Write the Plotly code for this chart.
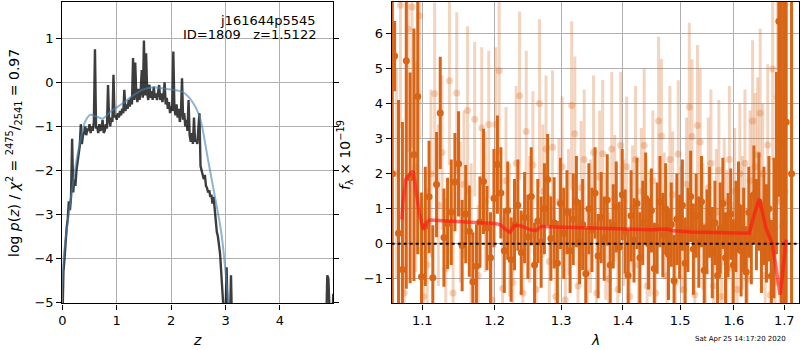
import plotly.graph_objects as go

# ---------------- left panel: log p(z) ----------------
z_grid = [
    0.00, 0.02, 0.04, 0.06, 0.08, 0.10, 0.12, 0.14, 0.16, 0.18,
    0.20, 0.22, 0.24, 0.26, 0.28, 0.30, 0.32, 0.34, 0.36, 0.38,
    0.40, 0.42, 0.44, 0.46, 0.48, 0.50, 0.52, 0.54, 0.56, 0.58,
    0.60, 0.62, 0.64, 0.66, 0.68, 0.70, 0.72, 0.74, 0.76, 0.78,
    0.80, 0.82, 0.84, 0.86, 0.88, 0.90, 0.92, 0.94, 0.96, 0.98,
    1.00, 1.02, 1.04, 1.06, 1.08, 1.10, 1.12, 1.14, 1.16, 1.18,
    1.20, 1.22, 1.24, 1.26, 1.28, 1.30, 1.32, 1.34, 1.36, 1.38,
    1.40, 1.42, 1.44, 1.46, 1.48, 1.50, 1.52, 1.54, 1.56, 1.58,
    1.60, 1.62, 1.64, 1.66, 1.68, 1.70, 1.72, 1.74, 1.76, 1.78,
    1.80, 1.82, 1.84, 1.86, 1.88, 1.90, 1.92, 1.94, 1.96, 1.98,
    2.00, 2.02, 2.04, 2.06, 2.08, 2.10, 2.12, 2.14, 2.16, 2.18,
    2.20, 2.22, 2.24, 2.26, 2.28, 2.30, 2.32, 2.34, 2.36, 2.38,
    2.40, 2.42, 2.44, 2.46, 2.48, 2.50, 2.52, 2.54, 2.56, 2.58,
    2.60, 2.62, 2.64, 2.66, 2.68, 2.70, 2.72, 2.74, 2.76, 2.78,
    2.80, 2.82, 2.84, 2.86, 2.88, 2.90, 2.92, 2.94, 2.96, 2.98,
    3.00, 3.02, 3.04, 3.06, 3.08, 3.10, 3.12,
    3.20, 4.82, 4.85, 4.87, 4.89, 4.92, 4.96, 4.98,
]
log_pz = [
    -5.6, -4.3, -4.0, -3.6, -3.3, -3.1, -2.7, -2.9, -2.6, -1.28,
    -2.5, -2.2, -2.35, -2.0, -1.85, -1.7, -1.45, -0.95, -1.4, -1.2,
    -1.15, -1.0, -1.2, -1.05, -1.1, -0.95, -1.15, -1.0, -1.1, -0.9,
    0.75, -1.05, -1.0, -1.15, -0.95, -1.1, -1.05, -0.85, -1.15, -1.1,
    -0.95, -1.05, -0.06, -0.85, -1.0, -0.8, -0.9, 0.17, -0.8, -0.75,
    -0.85, -0.7, -0.8, -0.65, -0.75, -0.6, -0.7, -0.17, -0.65, -0.5,
    -0.6, -0.4, -0.55, -0.35, -0.5, 0.55, -0.4, 0.45, -0.3, -0.45,
    -0.15, -0.4, -0.2, 0.28, -0.35, 0.95, -0.3, 0.66, -0.25, -0.4,
    -0.05, -0.35, -0.2, -0.4, -0.1, -0.35, -0.25, -0.4, -0.15, -0.06,
    -0.4, -0.25, -0.45, -0.3, 0.0, -0.5, -0.35, -0.6, -0.45, -0.7,
    -0.55, -0.65, 0.7, -0.6, -0.75, -0.5, -0.8, -0.6, -0.9, -0.7,
    0.09, -0.85, -0.7, -1.0, -0.85, -1.1, -0.4, -1.2, -1.35, -1.15,
    -1.4, -0.8, -1.35, -1.3, -1.4, -1.1, -0.7, -1.9, -2.0, -2.1,
    -2.2, -2.1, -2.35, -2.4, -2.5, -2.45, -2.6, -2.55, -2.75, -2.6,
    -2.9, -3.2, -3.4, -3.5, -3.7, -3.9, -4.3, -4.8, -5.3, -5.5,
    -5.3, -4.2, -5.4, -5.6, -5.5, -4.38, -5.6,
    -6.5, -6.5, -5.5, -4.38, -4.45, -5.5, -5.5, -4.8,
]
z_smooth = [0.0, 0.02, 0.08, 0.17, 0.26, 0.36, 0.42, 0.51, 0.63, 0.75, 0.88, 1.0,
            1.15, 1.31, 1.49, 1.67, 1.86, 2.04, 2.2, 2.32, 2.41, 2.5, 2.56, 2.67,
            2.79, 2.92, 3.0, 3.05, 3.1]
log_pz_smooth = [-4.6, -4.04, -3.36, -2.52, -1.77, -1.16, -0.89, -0.74, -0.78, -0.82,
                 -0.67, -0.57, -0.44, -0.29, -0.16, -0.11, -0.14, -0.17, -0.21, -0.33,
                 -0.48, -0.7, -0.95, -1.7, -2.5, -3.4, -4.3, -5.0, -5.6]

# ---------------- right panel: spectrum ----------------
wave_dark = [
    1.061, 1.064, 1.069, 1.074, 1.079, 1.084, 1.089, 1.094, 1.099, 1.104, 1.109,
    1.114, 1.119, 1.124, 1.129, 1.134, 1.139, 1.144, 1.149, 1.154, 1.159,
    1.164, 1.169, 1.174, 1.179, 1.184, 1.189, 1.194, 1.199, 1.204, 1.209,
    1.214, 1.219, 1.224, 1.229, 1.234, 1.239, 1.244, 1.249, 1.254, 1.259,
    1.264, 1.269, 1.274, 1.279, 1.284, 1.289, 1.294, 1.299, 1.304, 1.309,
    1.314, 1.319, 1.324, 1.329, 1.334, 1.339, 1.344, 1.349, 1.354, 1.359,
    1.364, 1.369, 1.374, 1.379, 1.384, 1.389, 1.394, 1.399, 1.404, 1.409,
    1.414, 1.419, 1.424, 1.429, 1.434, 1.439, 1.444, 1.449, 1.454, 1.459,
    1.464, 1.469, 1.474, 1.479, 1.484, 1.489, 1.494, 1.499, 1.504, 1.509,
    1.514, 1.519, 1.524, 1.529, 1.534, 1.539, 1.544, 1.549, 1.554, 1.559,
    1.564, 1.569, 1.574, 1.579, 1.584, 1.589, 1.594, 1.599, 1.604, 1.609,
    1.614, 1.619, 1.624, 1.629, 1.634, 1.639, 1.644, 1.649, 1.654, 1.659,
    1.664, 1.669, 1.674, 1.679, 1.684, 1.689, 1.694, 1.699, 1.704, 1.715,
]
flux_dark = [
    2.0, 5.35, 0.30, -0.73, 5.22, 1.88, 2.54, 4.20, -0.94, 0.50, 1.34,
    -0.97, 1.69, 3.73, 0.18, 0.58, 0.90, 1.76, 2.28, -0.05, 0.85,
    0.36, -1.08, -0.64, 0.62, 1.78, 0.45, -0.40, 1.30, 2.26, 1.45,
    -0.20, 0.95, -0.45, 0.55, 1.10, -0.25, 0.75, 0.20, 1.35, -0.60,
    0.65, 0.05, 1.00, 1.83, 0.15, 0.60, -0.55, 1.15, 0.30, 0.90,
    -0.20, 0.70, 1.20, 0.05, 0.55, -0.85, 1.00, 0.40, 1.45, -0.35,
    0.75, 0.15, 1.25, -0.60, 0.50, 1.05, -0.10, 1.40, 0.35, -0.90,
    0.80, 0.10, 1.15, -0.40, 0.60, 1.30, 0.00, 0.95, -0.70, 0.45,
    1.20, 0.25, 1.00, -0.30, 0.55, -1.05, 0.70, 0.20, 1.10, -0.55,
    0.40, 1.35, -0.15, 0.80, 0.05, 1.20, -0.75, 0.35, 0.90, -0.25,
    0.60, -0.90, 0.45, 1.15, -0.40, 0.25, 0.85, -0.60, 0.50, 1.05,
    -0.20, 0.40, -0.80, 0.90, 0.15, 1.40, 0.55, 1.20, -0.10, 0.80,
    0.30, 1.00, -0.92, 0.45, 2.30, 6.34, 2.85, 0.60, 3.47, 2.0,
]
err_dark = [
    9.0, 1.0, 3.8, 4.2, 6.5, 3.0, 3.6, 4.5, 2.4, 1.7, 1.6,
    1.5, 1.5, 1.6, 1.4, 1.3, 1.5, 1.4, 1.5, 1.3, 1.4,
    1.3, 1.4, 1.2, 1.3, 1.5, 1.2, 1.3, 1.4, 1.4, 1.3,
    1.2, 1.4, 1.2, 1.3, 1.3, 1.2, 1.3, 1.2, 1.4, 1.2,
    1.2, 1.3, 1.3, 1.3, 1.2, 1.3, 1.2, 1.3, 1.3, 1.2,
    1.2, 1.3, 1.3, 1.2, 1.3, 1.3, 1.3, 1.2, 1.3, 1.2,
    1.3, 1.2, 1.3, 1.3, 1.2, 1.3, 1.3, 1.3, 1.2, 1.3,
    1.3, 1.2, 1.3, 1.3, 1.2, 1.3, 1.3, 1.2, 1.3, 1.3,
    1.3, 1.2, 1.3, 1.3, 1.2, 1.3, 1.3, 1.2, 1.3, 1.3,
    1.2, 1.3, 1.3, 1.2, 1.3, 1.3, 1.3, 1.2, 1.3, 1.3,
    1.2, 1.3, 1.3, 1.3, 1.3, 1.2, 1.3, 1.3, 1.3, 1.3,
    1.3, 1.2, 1.3, 1.3, 1.3, 1.4, 1.3, 1.4, 1.3, 1.4,
    1.4, 1.5, 1.6, 2.0, 2.6, 5.0, 7.0, 9.0, 9.0, 9.0,
]
wave_light = [
    1.0665, 1.0715, 1.0765, 1.0815, 1.0865, 1.0915, 1.0965, 1.1015, 1.1065, 1.1115,
    1.1165, 1.1215, 1.1265, 1.1315, 1.1365, 1.1415, 1.1465, 1.1515, 1.1565, 1.1615,
    1.1665, 1.1715, 1.1765, 1.1815, 1.1865, 1.1915, 1.1965, 1.2015, 1.2065, 1.2115,
    1.2165, 1.2215, 1.2265, 1.2315, 1.2365, 1.2415, 1.2465, 1.2515, 1.2565, 1.2615,
    1.2665, 1.2715, 1.2765, 1.2815, 1.2865, 1.2915, 1.2965, 1.3015, 1.3065, 1.3115,
    1.3165, 1.3215, 1.3265, 1.3315, 1.3365, 1.3415, 1.3465, 1.3515, 1.3565, 1.3615,
    1.3665, 1.3715, 1.3765, 1.3815, 1.3865, 1.3915, 1.3965, 1.4015, 1.4065, 1.4115,
    1.4165, 1.4215, 1.4265, 1.4315, 1.4365, 1.4415, 1.4465, 1.4515, 1.4565, 1.4615,
    1.4665, 1.4715, 1.4765, 1.4815, 1.4865, 1.4915, 1.4965, 1.5015, 1.5065, 1.5115,
    1.5165, 1.5215, 1.5265, 1.5315, 1.5365, 1.5415, 1.5465, 1.5515, 1.5565, 1.5615,
    1.5665, 1.5715, 1.5765, 1.5815, 1.5865, 1.5915, 1.5965, 1.6015, 1.6065, 1.6115,
    1.6165, 1.6215, 1.6265, 1.6315, 1.6365, 1.6415, 1.6465, 1.6515, 1.6565, 1.6615,
    1.6665, 1.6715, 1.6765, 1.6815, 1.6865, 1.6915, 1.6965, 1.7015,
]
flux_light = [
    2.0, 6.8, -1.4, 6.12, 6.75, 2.2, 6.5, -1.5, -0.6, 2.0,
    4.28, 1.1, 2.6, -0.7, 4.65, -1.4, 4.30, 0.9, 1.7, 3.80,
    0.3, 3.55, -0.9, 3.30, 1.2, 3.40, -1.6, 3.40, 4.93, -1.27,
    1.8, 0.4, -1.1, 2.3, 4.22, -1.4, 3.20, 0.7, 2.25, -1.3,
    4.00, 1.5, 2.70, -0.5, 2.75, -1.5, 1.2, 2.2, -1.6, 0.9,
    3.94, 3.14, -1.2, 1.6, 2.4, -0.8, 0.5, 2.6, -1.4, 1.9,
    2.57, 0.2, -1.0, 2.70, 1.3, -1.3, 2.80, 0.6, 2.2, -1.5,
    1.0, 2.4, -0.6, 1.5, 2.80, -1.2, 0.3, 1.8, -1.4, 3.50,
    3.07, 0.8, -0.9, 2.40, 1.4, -1.1, 2.56, 0.4, -1.3, 1.7,
    3.90, 3.06, -1.45, 3.37, 2.9, 0.5, -0.8, 1.6, 2.3, -1.2,
    0.9, 2.1, -1.5, 1.2, 0.2, 2.4, -0.7, 1.5, -1.3, 2.0,
    0.6, 2.3, -1.0, 1.8, 3.50, 2.2, 2.54, 3.73, 2.0, -0.9,
    2.82, -1.46, 4.98, -1.1, 4.18, 1.2, 0.5, 1.5,
]
err_light = [
    3.0, 3.5, 3.0, 3.5, 4.0, 3.0, 3.5, 2.5, 2.2, 2.4,
    2.6, 2.3, 2.2, 2.0, 2.4, 2.2, 2.3, 2.0, 2.1, 2.4,
    2.0, 2.2, 2.0, 2.3, 2.0, 2.1, 2.2, 2.2, 2.4, 2.0,
    2.1, 1.9, 2.0, 2.2, 2.4, 2.0, 2.3, 1.8, 2.1, 2.0,
    2.4, 1.9, 2.1, 1.9, 2.2, 2.0, 1.8, 2.0, 2.1, 1.8,
    2.4, 2.2, 2.0, 1.9, 2.0, 1.8, 1.9, 2.2, 2.0, 1.9,
    2.1, 1.8, 1.9, 2.2, 1.8, 1.9, 2.1, 1.8, 2.0, 2.0,
    1.8, 2.1, 1.9, 1.8, 2.2, 1.9, 1.8, 2.0, 2.0, 2.4,
    2.2, 1.8, 1.9, 2.1, 1.8, 1.9, 2.1, 1.8, 2.0, 1.9,
    2.4, 2.2, 2.0, 2.3, 2.1, 1.8, 1.9, 2.0, 2.1, 1.9,
    1.8, 2.0, 2.0, 1.8, 1.9, 2.1, 1.9, 1.8, 2.0, 2.0,
    1.9, 2.1, 1.9, 2.0, 2.3, 2.1, 2.2, 2.4, 2.0, 2.0,
    2.3, 2.2, 2.6, 2.3, 3.0, 3.5, 4.0, 5.0,
]
wave_model = [
    1.0733, 1.0745, 1.0782, 1.0830, 1.0881, 1.0920, 1.0960, 1.1013, 1.1060, 1.1101,
    1.1300, 1.1500, 1.1800, 1.2000, 1.2080, 1.2150, 1.2223, 1.2290, 1.2370, 1.2450,
    1.2530, 1.2612, 1.2690, 1.2900, 1.3200, 1.3500, 1.4000, 1.4500, 1.4758, 1.4870,
    1.5200, 1.5600, 1.6000, 1.6300, 1.6400, 1.6497, 1.6560, 1.6630, 1.6680, 1.6750,
    1.6820, 1.6913, 1.6960, 1.7000, 1.7035,
]
flux_model = [
    0.70, 1.15, 1.83, 1.98, 2.07, 1.50, 0.89, 0.40, 0.62, 0.68,
    0.66, 0.64, 0.61, 0.58, 0.55, 0.42, 0.33, 0.52, 0.52, 0.46,
    0.40, 0.38, 0.50, 0.48, 0.46, 0.44, 0.42, 0.40, 0.42, 0.37,
    0.34, 0.32, 0.30, 0.30, 0.85, 1.28, 0.90, 0.45, 0.27, 0.05,
    -0.55, -1.45, -0.95, -0.30, 0.12,
]

title_text = "j161644p5545"
id_text = "ID=1809   z=1.5122"
date_text = "Sat Apr 25 14:17:20 2020"

DARK = "rgb(217,101,22)"
LIGHT = "rgba(217,101,22,0.28)"
FONT = "DejaVu Sans"

fig = go.Figure()

# left panel
fig.add_trace(go.Scatter(x=z_grid, y=log_pz, mode="lines",
                         line=dict(color="rgba(0,0,0,0.76)", width=2.4),
                         xaxis="x", yaxis="y", showlegend=False))
fig.add_trace(go.Scatter(x=z_smooth, y=log_pz_smooth, mode="lines",
                         line=dict(color="rgba(70,130,180,0.6)", width=2, shape="spline"),
                         xaxis="x", yaxis="y", showlegend=False))

# right panel
fig.add_trace(go.Scatter(x=wave_dark, y=flux_dark, mode="markers",
                         marker=dict(color=DARK, size=7),
                         error_y=dict(type="data", array=err_dark, color=DARK,
                                      thickness=3, width=0),
                         xaxis="x2", yaxis="y2", showlegend=False))
fig.add_trace(go.Scatter(x=wave_light, y=flux_light, mode="markers",
                         marker=dict(color=LIGHT, size=7),
                         error_y=dict(type="data", array=err_light, color=LIGHT,
                                      thickness=3, width=0),
                         xaxis="x2", yaxis="y2", showlegend=False))
fig.add_trace(go.Scatter(x=wave_model, y=flux_model, mode="lines",
                         line=dict(color="rgba(255,20,20,0.62)", width=3.5),
                         xaxis="x2", yaxis="y2", showlegend=False))

axis_common = dict(showline=True, linecolor="black", linewidth=1.2, automargin=False,
                   ticks="outside", ticklen=5, tickwidth=1, tickcolor="black",
                   showgrid=True, gridcolor="#b0b0b0", gridwidth=1,
                   zeroline=False, tickfont=dict(family=FONT, size=13, color="black"))

ydom = [0.1329, 0.9951]
fig.update_layout(
    width=800, height=350,
    margin=dict(l=0, r=0, t=0, b=0, autoexpand=False),
    paper_bgcolor="white", plot_bgcolor="white",
    font=dict(family=FONT, color="black"),
    xaxis=dict(domain=[0.0779, 0.4166], range=[0, 4.98], tickvals=[0, 1, 2, 3, 4],
               mirror=True, anchor="y", **axis_common),
    yaxis=dict(domain=ydom, range=[-5.02, 1.83], tickvals=[-5, -4, -3, -2, -1, 0, 1],
               mirror="ticks", anchor="x", **axis_common),
    xaxis2=dict(domain=[0.4896, 0.9991], type="log", range=[0.0254, 0.2383],
                tickvals=[1.1, 1.2, 1.3, 1.4, 1.5, 1.6, 1.7],
                ticktext=["1.1", "1.2", "1.3", "1.4", "1.5", "1.6", "1.7"],
                mirror=True, anchor="y2", **axis_common),
    yaxis2=dict(domain=ydom, range=[-1.70, 6.90], tickvals=[-1, 0, 1, 2, 3, 4, 5, 6],
                mirror=True, anchor="x2", **axis_common),
)

fig.add_shape(type="line", xref="x2 domain", yref="y2", x0=0, x1=1, y0=0, y1=0,
              line=dict(color="black", width=2, dash="dot"), layer="above")

ann = [
    dict(x=318 / 800, y=1 - 20 / 350, text=title_text, xanchor="right", yanchor="middle",
         font=dict(size=13)),
    dict(x=318 / 800, y=1 - 35 / 350, text=id_text, xanchor="right", yanchor="middle",
         font=dict(size=13)),
    dict(x=14 / 800, y=1 - 153 / 350, textangle=-90, xanchor="center", yanchor="middle",
         text="log <i>p</i>(<i>z</i>) / <i>χ</i><sup>2</sup> = <sup>2475</sup>/<sub>2541</sub> = 0.97",
         font=dict(size=14)),
    dict(x=345 / 800, y=1 - 155 / 350, textangle=-90, xanchor="center", yanchor="middle",
         text="<i>f</i><sub>λ</sub> × 10<sup>−19</sup>", font=dict(size=14)),
    dict(x=197 / 800, y=1 - 340 / 350, text="<i>z</i>", xanchor="center", yanchor="middle",
         font=dict(size=14)),
    dict(x=595 / 800, y=1 - 340 / 350, text="<i>λ</i>", xanchor="center", yanchor="middle",
         font=dict(size=14)),
    dict(x=788 / 800, y=1 - 339 / 350, text=date_text, xanchor="right", yanchor="middle",
         font=dict(size=7)),
]
for a in ann:
    a.update(xref="paper", yref="paper", showarrow=False)
    fig.add_annotation(**a)

fig.write_html("out.html", config={"displayModeBar": False},
               post_script="document.body.style.margin='0';document.body.style.overflow='hidden';")
